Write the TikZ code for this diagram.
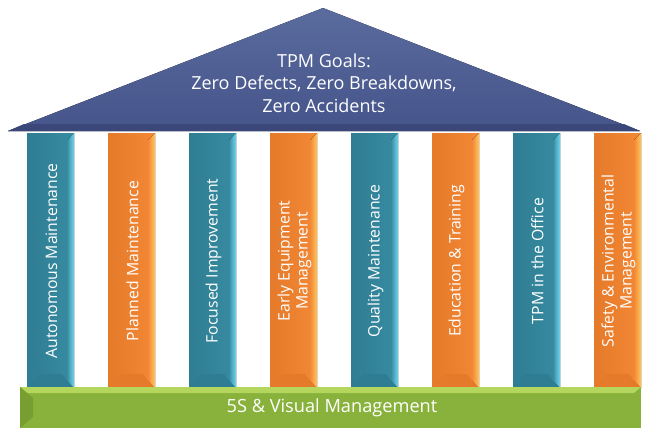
\documentclass[tikz,border=0pt]{standalone}
\usepackage{fontspec}
\setmainfont{Open Sans}
\definecolor{roof-top}{HTML}{5A6B9E}
\definecolor{roof-bot}{HTML}{45548A}
\definecolor{roof-edge}{HTML}{3A4778}
\definecolor{teal-main}{HTML}{378CA2}
\definecolor{teal-dark}{HTML}{2F7D92}
\definecolor{teal-light}{HTML}{74D4EE}
\definecolor{orng-main}{HTML}{F38836}
\definecolor{orng-dark}{HTML}{E57A2A}
\definecolor{orng-light}{HTML}{FFC75E}
\definecolor{green-main}{HTML}{88B23C}
\definecolor{green-light}{HTML}{B4D65C}
\definecolor{green-dark}{HTML}{779E30}
\tikzset{
  pillarlabel/.style={text=white, rotate=90, align=center, font=\fontsize{15.8}{18}\selectfont, inner sep=0pt},
  rooflabel/.style={text=white, align=center, font=\fontsize{18}{22.5}\selectfont, inner sep=0pt},
  baselabel/.style={text=white, font=\fontsize{18.2}{20}\selectfont, inner sep=0pt}
}
\begin{document}
\begin{tikzpicture}[x=1pt,y=-1pt]
\useasboundingbox (0,0) rectangle (646,431);

% pillars
\foreach \i/\col/\txt in {
  0/teal/{Autonomous Maintenance},
  1/orng/{Planned Maintenance},
  2/teal/{Focused Improvement},
  3/orng/{Early Equipment\\Management},
  4/teal/{Quality Maintenance},
  5/orng/{Education \& Training},
  6/teal/{TPM in the Office},
  7/orng/{Safety \& Environmental\\Management}}{
  \pgfmathsetmacro\xl{27+81*\i}
  \pgfmathsetmacro\xr{\xl+47}
  \pgfmathsetmacro\xm{\xl+24.5}
  \fill[left color=\col-dark, right color=\col-main] (\xl,133) rectangle (\xr,388);
  % right bevel
  \fill[left color=\col-main, right color=\col-light] (\xr-7,140) -- (\xr,133) -- (\xr,388) -- (\xr-7,381) -- cycle;
  % bottom bevel
  \fill[\col-dark] (\xl,388) -- (\xl+12,374) -- (\xr-12,374) -- (\xr-7,381) -- (\xr,388) -- cycle;
  \node[pillarlabel] (p\i) at (\xm,261) {\txt};
}

% roof
\fill[top color=roof-top, bottom color=roof-bot] (8,131) -- (323,8) -- (640,131) -- cycle;
\fill[roof-edge] (8,131) -- (24,124) -- (624,124) -- (640,131) -- cycle;
\node[rooflabel] (goals) at (324,83) {TPM Goals:\\Zero Defects, Zero Breakdowns,\\Zero Accidents};

% base
\fill[green-main] (20,387) rectangle (641,428);
\fill[green-light] (20,387) -- (641,387) -- (634,393) -- (27,393) -- cycle;
\fill[green-dark] (20,387) -- (33,398) -- (33,417) -- (20,428) -- cycle;
\node[baselabel] (base) at (332,408) {5S \& Visual Management};
\end{tikzpicture}
\end{document}
